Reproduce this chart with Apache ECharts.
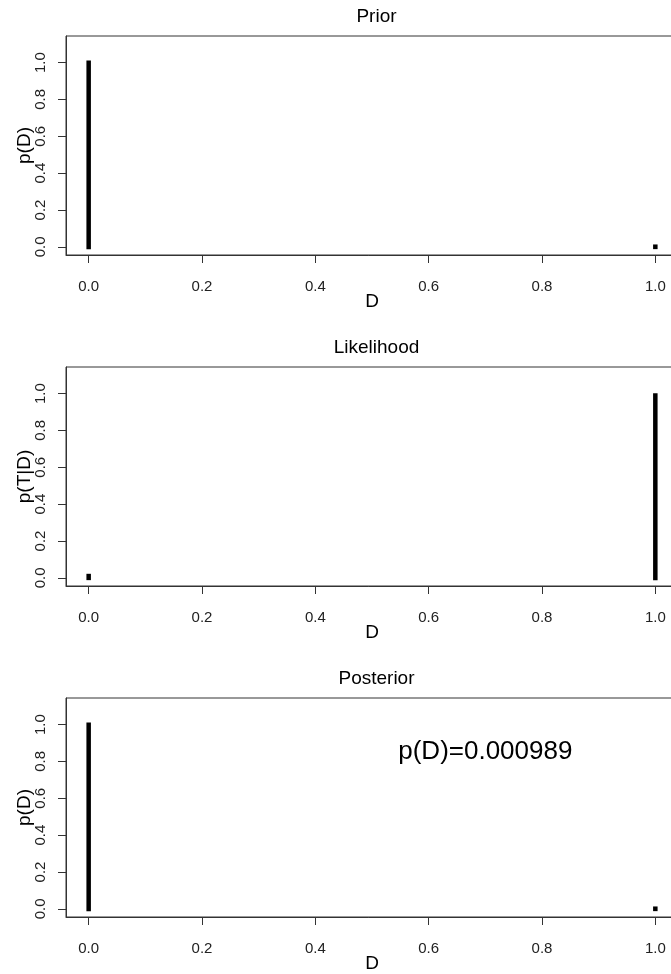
<!DOCTYPE html>
<html><head><meta charset="utf-8">
<script src="https://cdn.jsdelivr.net/npm/echarts@6/dist/echarts.min.js"></script>
<style>html,body{margin:0;padding:0;background:#fff}#c{width:671px;height:974px}</style>
</head><body><div id="c"></div>
<script>
// ---- data ----
const dValues = [0, 1];
const prior = [0.999, 0.001];
const likelihood = [0.01, 0.99];
const posterior = [0.999011, 0.000989];
const panelTitles = ['Prior', 'Likelihood', 'Posterior'];
const yLabels = ['p(D)', 'p(T|D)', 'p(D)'];
const xLabel = 'D';
const xTicks = [0, 0.2, 0.4, 0.6, 0.8, 1.0];
const yTicks = [0, 0.2, 0.4, 0.6, 0.8, 1.0];
const xRange = [-0.04, 1.04];
const yRange = [-0.044, 1.144];
const annotX = [0.7];
const annotY = [0.85];
const annotText = ['p(D)=0.000989'];

// ---- layout ----
const seriesVals = [prior, likelihood, posterior];
const boxTop = [36, 367, 698];
const boxLeft = 66, boxW = 612, boxH = 219;
const FONT = '"Liberation Sans", Arial, sans-serif';

function renderItem(params, api) {
  const x = api.value(0), y = api.value(1);
  const p0 = api.coord([x, 0]);
  const p1 = api.coord([x, y]);
  return {
    type: 'line',
    shape: {x1: p0[0], y1: p0[1], x2: p1[0], y2: p1[1]},
    style: {stroke: '#000', lineWidth: 4.5, lineCap: 'square'}
  };
}

const grids = [], xAxes = [], yAxes = [], series = [], titles = [];
for (let i = 0; i < 3; i++) {
  grids.push({
    left: boxLeft, top: boxTop[i], width: boxW, height: boxH,
    containLabel: false, outerBoundsMode: 'none',
    show: true, borderColor: '#333', borderWidth: 1, backgroundColor: 'transparent'
  });
  xAxes.push({
    type: 'value', gridIndex: i, min: xRange[0], max: xRange[1], position: 'bottom',
    axisLine: {show: true, onZero: false, lineStyle: {color: '#333', width: 1}},
    axisTick: {show: true, length: 8, customValues: xTicks, lineStyle: {color: '#333', width: 1}},
    splitLine: {show: false},
    axisLabel: {customValues: xTicks, formatter: v => v.toFixed(1), margin: 24, fontSize: 15, color: '#222', fontFamily: FONT},
    name: xLabel, nameLocation: 'middle', nameGap: 37, nameMoveOverlap: false,
    nameTextStyle: {fontSize: 19, color: '#000', fontFamily: FONT}
  });
  yAxes.push({
    type: 'value', gridIndex: i, min: yRange[0], max: yRange[1], position: 'left',
    axisLine: {show: true, onZero: false, lineStyle: {color: '#333', width: 1}},
    axisTick: {show: true, length: 8, customValues: yTicks, lineStyle: {color: '#333', width: 1}},
    splitLine: {show: false},
    axisLabel: {customValues: yTicks, formatter: v => v.toFixed(1), rotate: 90, margin: 18, fontSize: 15, color: '#222', fontFamily: FONT},
    name: yLabels[i], nameLocation: 'middle', nameRotate: 90, nameGap: 32, nameMoveOverlap: false,
    nameTextStyle: {fontSize: 19, color: '#000', fontFamily: FONT}
  });
  series.push({
    type: 'custom', xAxisIndex: i, yAxisIndex: i, clip: false,
    renderItem: renderItem,
    data: dValues.map((d, j) => [d, seriesVals[i][j]])
  });
  titles.push({
    text: panelTitles[i], left: boxLeft + boxW / 2 - 0.5, top: boxTop[i] - 34, textAlign: 'center',
    textStyle: {fontSize: 19, fontWeight: 'normal', color: '#000', fontFamily: FONT}
  });
}

series.push({
  type: 'scatter', xAxisIndex: 2, yAxisIndex: 2, symbolSize: 1, itemStyle: {opacity: 0},
  data: annotX.map((x, k) => ({value: [x, annotY[k]], label: {formatter: annotText[k]}})),
  label: {show: true, position: 'inside', fontSize: 26, color: '#000', fontFamily: FONT, opacity: 1},
  silent: true
});

const chart = echarts.init(document.getElementById('c'), null, {renderer: 'canvas'});
chart.setOption({
  animation: false,
  backgroundColor: '#fff',
  title: titles,
  grid: grids,
  xAxis: xAxes,
  yAxis: yAxes,
  series: series
});
</script>
</body></html>
